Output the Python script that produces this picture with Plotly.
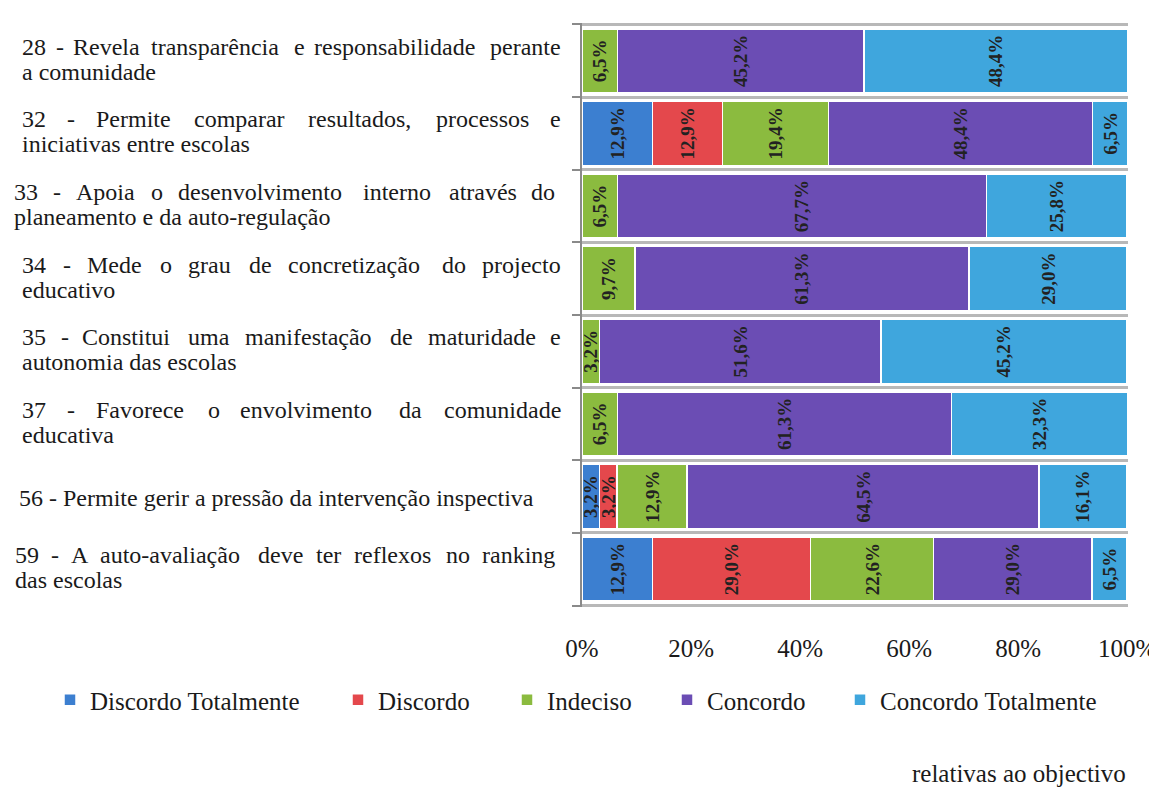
import plotly.graph_objects as go

# ── Data ──────────────────────────────────────────────────────────────────────
ITEMS = [
    ["28 - Revela transparência e responsabilidade perante", "a comunidade"],
    ["32 - Permite comparar resultados, processos e", "iniciativas entre escolas"],
    ["33 - Apoia o desenvolvimento interno através do", "planeamento e da auto-regulação"],
    ["34 - Mede o grau de concretização do projecto", "educativo"],
    ["35 - Constitui uma manifestação de maturidade e", "autonomia das escolas"],
    ["37 - Favorece o envolvimento da comunidade", "educativa"],
    ["56 - Permite gerir a pressão da intervenção inspectiva"],
    ["59 - A auto-avaliação deve ter reflexos no ranking", "das escolas"],
]
SERIES = ["Discordo Totalmente", "Discordo", "Indeciso", "Concordo", "Concordo Totalmente"]
discordo_totalmente = [0, 12.9, 0, 0, 0, 0, 3.2, 12.9]
discordo            = [0, 12.9, 0, 0, 0, 0, 3.2, 29.0]
indeciso            = [6.5, 19.4, 6.5, 9.7, 3.2, 6.5, 12.9, 22.6]
concordo            = [45.2, 48.4, 67.7, 61.3, 51.6, 61.3, 64.5, 29.0]
concordo_totalmente = [48.4, 6.5, 25.8, 29.0, 45.2, 32.3, 16.1, 6.5]
TICKS = [0, 20, 40, 60, 80, 100]

COLORS = ["#3c7fd0", "#e4484c", "#8bbb3f", "#6b4db4", "#3fa6dd"]
FONT = "Liberation Serif"
LABEL_SIZE = 24
INK = "#1a1a1a"

# page has an 8px body margin: work in page pixels, convert to figure pixels
OFF = 8
W, H = 1157 - OFF, 788 - OFF
PL, PR, PT, PB = 582 - OFF, 1128 - OFF, 23 - OFF, 607 - OFF

# where each legend entry's text starts (page px)
LEGEND_TEXT_X = [90, 378, 547, 707, 880]
LEGEND_Y = 700 - OFF

# Times / Liberation Serif advance widths (em/1000) for justification
_W = {" ": 250, "a": 444, "b": 500, "c": 444, "d": 500, "e": 444, "f": 333, "g": 500,
      "h": 500, "i": 278, "j": 278, "k": 500, "l": 278, "m": 778, "n": 500, "o": 500,
      "p": 500, "q": 500, "r": 333, "s": 389, "t": 278, "u": 500, "v": 500, "w": 722,
      "x": 500, "y": 500, "z": 444, "-": 333, ",": 250, ".": 250,
      "A": 722, "C": 667, "F": 556, "M": 889, "P": 556, "R": 667,
      "ê": 444, "ç": 444, "ã": 444, "é": 444}


def text_width(s, size):
    # small fudge: rendered glyphs come out a bit wider than the AFM widths
    return sum(_W.get(ch, 500) for ch in s) * size / 1000.0 * 1.045


def fmt(v):
    return "" if v == 0 else f"<b>{v:.1f}%</b>".replace(".", ",")


fig = go.Figure()
ypos = list(range(len(ITEMS)))
all_series = [discordo_totalmente, discordo, indeciso, concordo, concordo_totalmente]
legends = {}
for k, (name, vals, col) in enumerate(zip(SERIES, all_series, COLORS)):
    lg = "legend" if k == 0 else f"legend{k + 1}"
    fig.add_trace(go.Bar(
        name=name, y=ypos, x=vals, orientation="h",
        marker=dict(color=col, line=dict(color="white", width=1.5)),
        width=0.88,
        text=[fmt(v) for v in vals],
        texttemplate="%{text}",
        textposition="inside",
        insidetextanchor="middle",
        textangle=-90,
        constraintext="none",
        textfont=dict(family=FONT, size=19, color="#222222"),
        legend=lg,
    ))
    legends[lg] = dict(
        xref="container", yref="container",
        x=(LEGEND_TEXT_X[k] - OFF - 40) / W, xanchor="left",
        y=1 - LEGEND_Y / H, yanchor="middle",
        font=dict(family=FONT, size=LABEL_SIZE + 1, color=INK),
        bgcolor="rgba(0,0,0,0)",
        itemwidth=30,
    )

# left-hand labels, first line justified like the source document (page px)
starts = [20, 20, 12, 20, 20, 20, 17, 13]
ends = [563, 563, 557, 563, 563, 563, 557, 557]
annotations = []
for i, lines in enumerate(ITEMS):
    two = len(lines) == 2
    for j, line in enumerate(lines):
        yshift = (14 if j == 0 else -11) if two else -1
        words = line.split(" ")
        x0, x1 = starts[i] - OFF, ends[i] - OFF
        if two and j == 0:
            total = sum(text_width(w, LABEL_SIZE) for w in words)
            gap = (x1 - x0 - total) / (len(words) - 1)
            xcur = x0
            for k, w in enumerate(words):
                last = k == len(words) - 1
                annotations.append(dict(
                    text=w, xref="paper", yref="y", x=0, y=i,
                    xanchor="right" if last else "left", yanchor="middle",
                    xshift=(x1 if last else xcur) - PL, yshift=yshift,
                    showarrow=False, font=dict(family=FONT, size=LABEL_SIZE, color=INK),
                ))
                xcur += text_width(w, LABEL_SIZE) + gap
        else:
            annotations.append(dict(
                text=line, xref="paper", yref="y", x=0, y=i,
                xanchor="left", yanchor="middle",
                xshift=x0 - PL, yshift=yshift,
                showarrow=False, font=dict(family=FONT, size=LABEL_SIZE, color=INK),
            ))

annotations.append(dict(
    text="relativas ao objectivo", xref="paper", yref="paper",
    x=1, y=(PB - (773 - OFF)) / (PB - PT), xanchor="right", yanchor="middle",
    showarrow=False, font=dict(family=FONT, size=LABEL_SIZE + 1, color=INK),
))

fig.update_layout(
    barmode="stack",
    width=W, height=H,
    margin=dict(l=PL, r=W - PR, t=PT, b=H - PB, autoexpand=False),
    paper_bgcolor="white",
    plot_bgcolor="white",
    font=dict(family=FONT, size=LABEL_SIZE, color=INK),
    showlegend=True,
    xaxis=dict(
        range=[0, 100.15],
        tickvals=TICKS,
        ticktext=[f"{t}%" for t in TICKS],
        showgrid=False, zeroline=False, showline=False,
        ticks="",
        ticklabelstandoff=24,
        tickfont=dict(family=FONT, size=LABEL_SIZE + 1, color=INK),
        fixedrange=True,
    ),
    yaxis=dict(
        range=[len(ITEMS) - 0.5 + 0.02, -0.52],
        tickvals=[k - 0.5 for k in range(len(ITEMS) + 1)],
        showticklabels=False,
        showgrid=True, gridcolor="#b8b8b8", gridwidth=3,
        zeroline=False,
        showline=True, linecolor="#8a8a8a", linewidth=1.5,
        ticks="outside", ticklen=8, tickcolor="#8a8a8a", tickwidth=1.5,
        fixedrange=True,
    ),
    annotations=annotations,
    bargap=0.1,
    **legends,
)

fig.write_html("out.html")
